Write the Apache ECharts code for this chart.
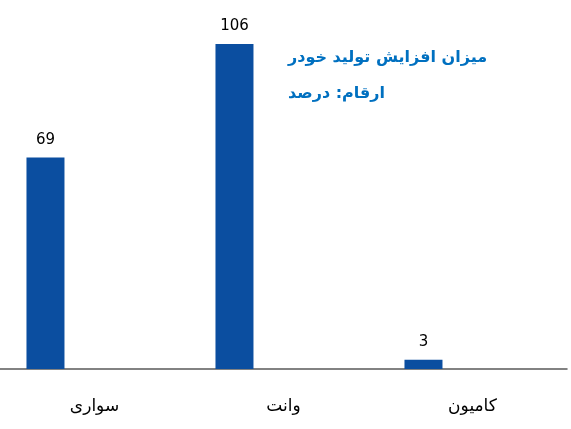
<!DOCTYPE html>
<html>
<head>
<meta charset="utf-8">
<script src="https://cdn.jsdelivr.net/npm/echarts@6/dist/echarts.min.js"></script>
<style>
  html, body { margin: 0; padding: 0; background: #fff; }
  #chart { width: 571px; height: 429px; }
</style>
</head>
<body>
<div id="chart"></div>
<script>
// داده‌ها
var categories = ['سواری', 'وانت', 'کامیون'];
var growthValues = [69, 106, 3];
var titleLines = ['میزان افزایش تولید خودر', 'ارقام: درصد'];

var chart = echarts.init(document.getElementById('chart'));
var option = {
  animation: false,
  grid: {
    left: 0,
    right: 4,
    top: 1,
    bottom: 60
  },
  xAxis: {
    type: 'category',
    data: categories,
    axisLine: {
      lineStyle: { color: '#595959', width: 1.5 }
    },
    axisTick: { show: false },
    axisLabel: {
      margin: 29,
      color: '#000',
      fontSize: 17,
      fontFamily: 'DejaVu Sans'
    }
  },
  yAxis: {
    type: 'value',
    min: 0,
    max: 120,
    show: false,
    splitLine: { show: false }
  },
  series: [{
    type: 'bar',
    data: growthValues,
    barWidth: 38,
    barGap: '158%',
    itemStyle: { color: '#0b4ea0' },
    label: {
      show: true,
      position: 'top',
      distance: 10,
      color: '#000',
      fontSize: 15,
      fontFamily: 'DejaVu Sans'
    }
  }, {
    // سری خالی برای جابجایی ستون‌ها
    type: 'bar',
    data: [null, null, null],
    barWidth: 38
  }],
  graphic: [{
    type: 'text',
    left: 288,
    top: 50,
    style: {
      text: titleLines[0],
      fill: '#0070c0',
      font: 'bold 16px "DejaVu Sans"'
    }
  }, {
    type: 'text',
    left: 288,
    top: 86,
    style: {
      text: titleLines[1],
      fill: '#0070c0',
      font: 'bold 16px "DejaVu Sans"'
    }
  }]
};
chart.setOption(option);
</script>
</body>
</html>
